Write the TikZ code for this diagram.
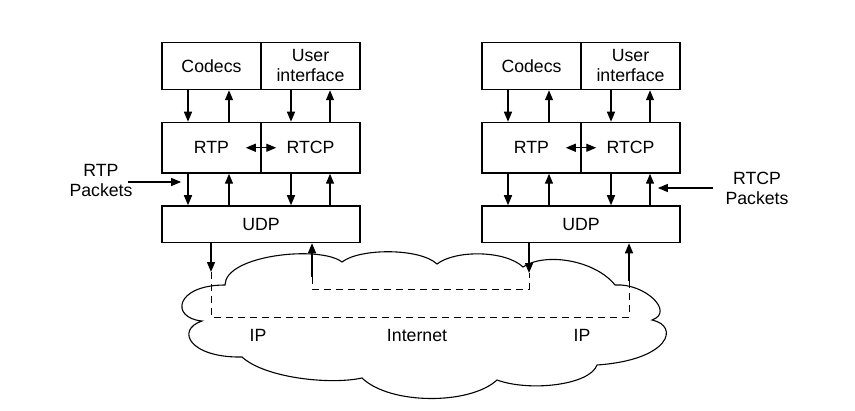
\documentclass[tikz,border=0pt]{standalone}
\usepackage{fontspec}
\setmainfont{Liberation Sans}
\usetikzlibrary{arrows.meta,positioning}

\begin{document}
\begin{tikzpicture}[x=0.5pt, y=-0.5pt, line width=0.65pt,
	box/.style={draw, line width=0.75pt, inner sep=0pt, minimum width=49.5pt, align=center},
	tip/.style={-{Triangle[length=5pt,width=4pt]}},
	duo/.style={{Triangle[length=5pt,width=4pt]}-{Triangle[length=5pt,width=4pt]}},
	tag/.style={inner sep=0pt, align=center},
	wire/.style={dash pattern=on 3.3pt off 2.7pt, line width=0.5pt}]
			\useasboundingbox (0,0) rectangle (855,411);
			\fontsize{8.85}{10}\selectfont
			
			% cloud
			\draw[line width=0.55pt] (225,285) .. controls (225,255) and (320,245) .. (342,262)
				.. controls (360,248) and (420,248) .. (437,264)
				.. controls (455,250) and (505,250) .. (523,267)
				.. controls (545,252) and (595,260) .. (615,285)
				.. controls (645,283) and (675,312) .. (652,320)
				.. controls (680,326) and (670,360) .. (597,365)
				.. controls (590,385) and (530,392) .. (497,380)
				.. controls (470,405) and (390,405) .. (362,378)
				.. controls (330,385) and (265,378) .. (242,357)
				.. controls (190,358) and (175,330) .. (202,321)
				.. controls (170,318) and (175,285) .. (225,285) -- cycle;
			
			% stacks
			\foreach \s/\x in {A/162,B/482} {
				\node[box, minimum height=23.5pt] (codec\s) at (\x+49.5,66) {Codecs};
				\node[box, minimum height=23.5pt] (ui\s) at (\x+148.5,66) {User\\interface};
				\node[box, minimum height=25.25pt] (rtp\s) at (\x+49.5,147.75) {RTP};
				\node[box, minimum height=25.25pt] (rtcp\s) at (\x+148.5,147.75) {RTCP};
				\node[box, minimum height=18.25pt, minimum width=99pt] (udp\s) at (\x+99,224.25) {UDP};
				\foreach \dx/\k in {26/1,67/2,129/3,168/4}
					\coordinate (col\s\k) at (\x+\dx,0);
				
				\draw[tip] (col\s1 |- codec\s.south) -- (col\s1 |- rtp\s.north);
				\draw[tip] (col\s2 |- rtp\s.north) -- (col\s2 |- codec\s.south);
				\draw[tip] (col\s3 |- ui\s.south) -- (col\s3 |- rtcp\s.north);
				\draw[tip] (col\s4 |- rtcp\s.north) -- (col\s4 |- ui\s.south);
				
				\draw[tip] (col\s1 |- rtp\s.south) -- (col\s1 |- udp\s.north);
				\draw[tip] (col\s2 |- udp\s.north) -- (col\s2 |- rtp\s.south);
				\draw[tip] (col\s3 |- rtcp\s.south) -- (col\s3 |- udp\s.north);
				\draw[tip] (col\s4 |- udp\s.north) -- (col\s4 |- rtcp\s.south);
				
				\draw[duo] ([xshift=-8pt]rtp\s.east) -- ([xshift=8pt]rtcp\s.west);
			}
			
			% packets coming in
			\node[tag] (rtppk) at (101,180) {RTP\\Packets};
			\node[tag] (rtcppk) at (757,188) {RTCP\\Packets};
			\draw[tip] ([xshift=-2.5pt,yshift=-1pt]rtppk.east) -- +(26.5pt,0);
			\draw[tip] ([xshift=-6pt]rtcppk.west) -- +(-27.5pt,0);
			
			% paths through the internet
			\coordinate (outA) at (211,272);
			\coordinate (outB) at (629,281);
			\coordinate (inA) at (312,277);
			\coordinate (inB) at (529,273);
			\coordinate (lowIP) at (0,317);
			\coordinate (highIP) at (0,289);
			
			\draw[tip] (outA |- udpA.south) -- (outA);
			\draw[wire] (outA) -- (outA |- lowIP) -- (outB |- lowIP) -- (outB);
			\draw[tip] (outB) -- (outB |- udpB.south);
			
			\draw[tip] (inA) -- (inA |- udpA.south);
			\draw[wire] (inA) -- (inA |- highIP) -- (inB |- highIP) -- (inB);
			\draw[tip] (inB |- udpB.south) -- (inB);
			
			\node[tag] (ipA) at (258,335) {IP};
			\node[tag] (inet) at (417,335) {Internet};
			\node[tag] (ipB) at (582,335) {IP};
		\end{tikzpicture}
\end{document}
